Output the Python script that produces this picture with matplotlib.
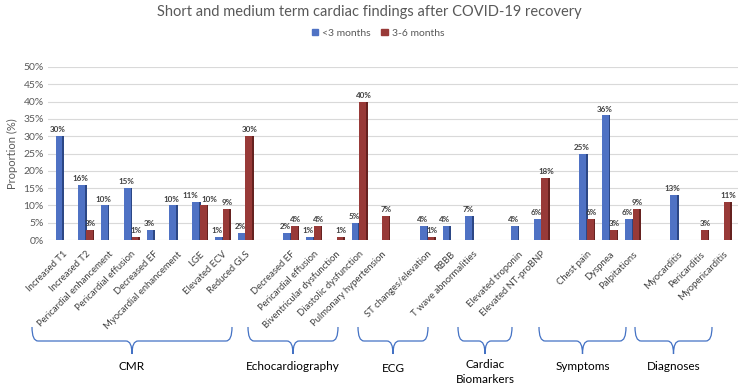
import matplotlib.pyplot as plt
import numpy as np
from matplotlib.path import Path
from matplotlib.patches import PathPatch, Patch

plt.rcParams['font.family'] = ['Lato', 'DejaVu Sans']

# Categories ('' = gap between groups)
categories = ['Increased T1', 'Increased T2', 'Pericardial enhancement', 'Pericardial effusion',
              'Decreased EF', 'Myocardial enhancement', 'LGE', 'Elevated ECV', 'Reduced GLS', '',
              'Decreased EF', 'Pericardial effusion', 'Biventricular dysfunction', 'Diastolic dysfunction',
              'Pulmonary hypertension', '',
              'ST changes/elevation', 'RBBB', 'T wave abnormalities', '',
              'Elevated troponin', 'Elevated NT-proBNP', '',
              'Chest pain', 'Dyspnea', 'Palpitations', '',
              'Myocarditis', 'Pericarditis', 'Myopericarditis']

lt3 = [30, 16, 10, 15, 3, 10, 11, 1, 2, None,
       2, 1, 0, 5, 0, None,
       4, 4, 7, None,
       4, 6, None,
       25, 36, 6, None,
       13, 0, 0]
m36 = [0, 3, 0, 1, 0, 0, 10, 9, 30, None,
       4, 4, 1, 40, 7, None,
       1, 0, 0, None,
       0, 18, None,
       6, 3, 9, None,
       0, 3, 11]

groups = ['CMR', 'Echocardiography', 'ECG', 'Cardiac\nBiomarkers', 'Symptoms', 'Diagnoses']

blue, blue_side = '#4F72C4', '#2C4785'
red, red_side = '#983A38', '#662220'
txt = '#404040'

fig = plt.figure(figsize=(7.38, 3.85), dpi=100)
ax = fig.add_axes([48 / 738, 1 - 240 / 385, 690 / 738, 173 / 385])

x = np.arange(len(categories))
w = 0.30
side = 0.07
for i, (a, b) in enumerate(zip(lt3, m36)):
    if a is None:
        continue
    xb = x[i] - 0.17
    xr = x[i] + 0.17
    ax.bar(xb, a, width=w, color=blue, zorder=3)
    ax.bar(xb + w / 2, a, width=side, align='edge', color=blue_side, zorder=3)
    ax.bar(xr, b, width=w, color=red, zorder=4)
    ax.bar(xr + w / 2, b, width=side, align='edge', color=red_side, zorder=4)
    # push the two labels apart when they sit at nearly the same height
    nudge = 0.2 if (a > 0 and b > 0 and abs(a - b) <= 1) else 0
    if a > 0:
        ax.text(xb - 0.05 - nudge, a + 0.8, f'{a}%', ha='center', va='bottom', fontsize=5.8,
                color=txt, fontweight='bold', zorder=5)
    if b > 0:
        ax.text(xr + 0.05 + nudge, b + 0.8, f'{b}%', ha='center', va='bottom', fontsize=5.8,
                color=txt, fontweight='bold', zorder=5)

ax.set_xlim(-0.65, 29.65)
ax.set_ylim(0, 50)
ax.set_yticks(np.arange(0, 51, 5))
ax.set_yticklabels([f'{v}%' for v in range(0, 51, 5)], fontsize=7.5, color='#595959')
ax.yaxis.grid(True, color='#D9D9D9', linewidth=0.8, zorder=0)
ax.set_axisbelow(True)
ax.set_xticks(x)
ax.set_xticklabels(categories, rotation=45, ha='right', va='top', rotation_mode='anchor',
                   fontsize=6.8, color=txt)
ax.tick_params(length=0, pad=3)
ax.tick_params(axis='x', pad=7)
for s in ax.spines.values():
    s.set_visible(False)
ax.set_ylabel('Proportion (%)', fontsize=8, color='#595959', labelpad=4)

fig.text(0.5, 1 - 12 / 385, 'Short and medium term cardiac findings after COVID-19 recovery',
         ha='center', va='center', fontsize=10.5, color='#595959')

handles = [Patch(color=blue, label='<3 months'), Patch(color=red, label='3-6 months')]
fig.legend(handles=handles, loc='center', bbox_to_anchor=(378 / 738, 1 - 33 / 385), ncol=2,
           frameon=False, fontsize=7.5, handlelength=0.6, handleheight=0.6,
           handletextpad=0.4, columnspacing=1.0, labelcolor='#595959')

# braces under category groups, in pixel space
ov = fig.add_axes([0, 0, 1, 1], facecolor='none')
ov.set_xlim(0, 738)
ov.set_ylim(385, 0)
ov.axis('off')

brace_spans = [(32, 232), (248, 338), (358, 428), (458, 512), (539, 626), (635, 712)]
label_y = [367, 367, 369, 372, 367, 367]


def brace(x0, x1, ytop=327, ymid=341, ytip=354):
    xm = (x0 + x1) / 2
    r = 6
    verts = [(x0, ytop), (x0, ymid), (x0 + r, ymid), (xm - r, ymid), (xm, ymid), (xm, ytip),
             (xm, ymid), (xm + r, ymid), (x1 - r, ymid), (x1, ymid), (x1, ytop)]
    codes = [Path.MOVETO, Path.CURVE3, Path.CURVE3, Path.LINETO, Path.CURVE3, Path.CURVE3,
             Path.CURVE3, Path.CURVE3, Path.LINETO, Path.CURVE3, Path.CURVE3]
    ov.add_patch(PathPatch(Path(verts, codes), facecolor='none', edgecolor='#4472C4', lw=0.9))


for (x0, x1), g, yl in zip(brace_spans, groups, label_y):
    brace(x0, x1)
    ov.text((x0 + x1) / 2, yl, g, ha='center', va='center', fontsize=8.5, color='black',
            linespacing=1.4)

fig.savefig('out.png', dpi=100)
